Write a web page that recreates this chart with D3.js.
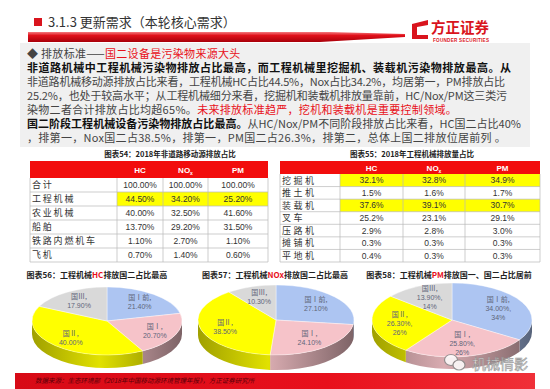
<!DOCTYPE html>
<html>
<head>
<meta charset="utf-8">
<script src="https://cdn.jsdelivr.net/npm/d3@7"></script>
<style>
  body { margin: 0; background: #fff; }
  svg { display: block; }
  text { font-family: "Noto Sans CJK SC", "Noto Sans", sans-serif; }
  .num { font-family: "Liberation Sans", Arial, sans-serif; }
</style>
</head>
<body>
<div id="chart"></div>
<script>
const width = 550;
const height = 389;

// table 54: 2018 non-road mobile source share
const t54Rows = ["合计", "工程机械", "农业机械", "船舶", "铁路内燃机车", "飞机"];
const t54HC = [100.00, 44.50, 40.00, 13.70, 1.10, 0.70];
const t54NOx = [100.00, 34.20, 32.50, 29.20, 2.70, 1.40];
const t54PM = [100.00, 25.20, 41.60, 31.50, 1.10, 0.60];
const t54Hi = ["工程机械"];

// table 55: construction machinery emission share
const t55Rows = ["挖掘机", "推土机", "装载机", "叉车", "压路机", "摊铺机", "平地机"];
const t55HC = [32.1, 1.5, 37.6, 25.2, 2.9, 0.3, 0.4];
const t55NOx = [32.8, 1.6, 39.1, 23.1, 2.8, 0.3, 0.3];
const t55PM = [34.9, 1.7, 30.7, 29.1, 3.0, 0.3, 0.3];
const t55Hi = ["挖掘机", "装载机"];

// pies 56-58: share by emission stage
const stages = ["国Ⅰ前", "国Ⅰ", "国Ⅱ", "国Ⅲ"];
const hcShare = [21.40, 20.70, 40.00, 17.90];
const noxShare = [27.10, 24.10, 38.50, 10.30];
const pmShare = [34.00, 25.80, 26.30, 13.90];

const red = "#e8101a";
const stageColor = d3.scaleOrdinal()
    .domain(stages)
    .range(["#adc5f2", "#f6c3c9", "#ffff00", "#d9d9d9"]);

const svg = d3.select("#chart").append("svg")
    .attr("width", width)
    .attr("height", height);
const defs = svg.append("defs");

svg.append("rect").attr("width", width).attr("height", height).attr("fill", "#fff");

// ---------- header ----------
svg.append("rect").attr("x", 34).attr("y", 18).attr("width", 8).attr("height", 8).attr("fill", "#d9141d");
svg.append("text").attr("x", 48).attr("y", 27)
    .attr("font-size", 13).attr("fill", "#333")
    .text("3.1.3 更新需求（本轮核心需求）");

const barGrad = defs.append("linearGradient").attr("id", "barGrad")
    .attr("x1", 0).attr("x2", 0).attr("y1", 0).attr("y2", 1);
barGrad.append("stop").attr("offset", 0).attr("stop-color", "#f47a7e");
barGrad.append("stop").attr("offset", 0.35).attr("stop-color", "#e0101a");
barGrad.append("stop").attr("offset", 1).attr("stop-color", "#a8000a");
svg.append("path")
    .attr("d", "M28,32 L330,32 L405,34 L405,37 L320,42 L28,42 Z")
    .attr("fill", "url(#barGrad)");

// logo
svg.append("path")
    .attr("d", "M412,24 L428,20 L428,25 L417,27 L417,35 L428,35 L428,39 L412,39 Z")
    .attr("fill", "#d9141d");
svg.append("text").attr("x", 431).attr("y", 33)
    .attr("font-size", 14.5).attr("font-weight", 700).attr("fill", "#d9141d")
    .text("方正证券");
svg.append("text").attr("x", 433).attr("y", 41.5).attr("class", "num")
    .attr("font-size", 4.6).attr("font-weight", 700).attr("fill", "#d9141d")
    .attr("textLength", 56)
    .text("FOUNDER SECURITIES");

// ---------- text block ----------
svg.append("rect").attr("x", 20).attr("y", 43).attr("width", 510).attr("height", 104).attr("fill", "#f0f0f0");

const lines = [
    [["◆ 排放标准——", "n"], ["国二设备是污染物来源大头", "r"]],
    [["非道路机械中工程机械污染物排放占比最高，而工程机械里挖掘机、装载机污染物排放最高。从", "b"]],
    [["非道路机械移动源排放占比来看，工程机械HC占比44.5%，Nox占比34.2%，均居第一，PM排放占比", "n"]],
    [["25.2%，也处于较高水平；从工程机械细分来看，挖掘机和装载机排放量靠前，HC/Nox/PM这三类污", "n"]],
    [["染物二者合计排放占比均超65%。", "n"], ["未来排放标准趋严，挖机和装载机是重要控制领域。", "r"]],
    [["国二阶段工程机械设备污染物排放占比最高。", "b"], ["从HC/Nox/PM不同阶段排放占比来看，HC国二占比40%", "n"]],
    [["，排第一，Nox国二占38.5%，排第一，PM国二占26.3%，排第二，总体上国二排放位居前列 。", "n"]]
];
// full widths of the justified lines, null = natural width
const lineWidths = [null, 484, 478, 480, null, 494, null];
lines.forEach((segs, i) => {
    const t = svg.append("text")
        .attr("x", 27).attr("y", 58 + i * 14)
        .attr("font-size", 11);
    if (lineWidths[i]) {
        t.attr("textLength", lineWidths[i]).attr("lengthAdjust", "spacing");
    } else {
        t.attr("letter-spacing", 0.3);
    }
    segs.forEach(([s, k]) => {
        t.append("tspan")
            .attr("fill", k === "r" ? red : (k === "b" ? "#111" : "#444"))
            .attr("font-weight", k === "b" ? 700 : 400)
            .text(s);
    });
});

// ---------- tables ----------
const fmt2 = d3.format(".2f");
const fmt1 = d3.format(".1f");

const drawTable = (opt) => {
    const g = svg.append("g");
    const cols = ["label", "HC", "NOx", "PM"];
    const y = d3.scaleBand().domain(opt.rows).range([opt.bodyTop, opt.bottom]);
    const xl = (c) => opt.edges[cols.indexOf(c)];
    const xr = (c) => opt.edges[cols.indexOf(c) + 1];

    g.append("text")
        .attr("x", opt.titleX).attr("y", opt.titleY)
        .attr("text-anchor", "middle").attr("font-size", 7.5).attr("font-weight", 700).attr("fill", "#222")
        .text(opt.title);

    // header
    g.append("rect")
        .attr("x", opt.edges[0]).attr("y", opt.top)
        .attr("width", opt.edges[4] - opt.edges[0]).attr("height", opt.bodyTop - opt.top)
        .attr("fill", "#f20d0d");
    ["HC", "NOx", "PM"].forEach(c => {
        const t = g.append("text").attr("class", "num")
            .attr("x", (xl(c) + xr(c)) / 2).attr("y", (opt.top + opt.bodyTop) / 2 + 3)
            .attr("text-anchor", "middle").attr("font-size", 8).attr("font-weight", 700).attr("fill", "#fff");
        if (c === "NOx") {
            t.append("tspan").text("NO");
            t.append("tspan").attr("font-size", 5).attr("dy", 2).text("x");
        } else {
            t.text(c);
        }
    });

    // body cells
    opt.rows.forEach((r, i) => {
        const hi = opt.hi.includes(r);
        g.append("text")
            .attr("x", opt.edges[0] + 2).attr("y", y(r) + y.bandwidth() / 2 + 3.3)
            .attr("font-size", 9).attr("letter-spacing", opt.ls).attr("fill", "#333")
            .text(r);
        [["HC", opt.hc], ["NOx", opt.nox], ["PM", opt.pm]].forEach(([c, arr]) => {
            if (hi) {
                g.append("rect")
                    .attr("x", xl(c)).attr("y", y(r))
                    .attr("width", xr(c) - xl(c)).attr("height", y.bandwidth())
                    .attr("fill", "#ffff00");
            }
            g.append("text").attr("class", "num")
                .attr("x", (xl(c) + xr(c)) / 2).attr("y", y(r) + y.bandwidth() / 2 + 3)
                .attr("text-anchor", "middle").attr("font-size", 8.5).attr("fill", "#333")
                .text(opt.fmt(arr[i]) + "%");
        });
    });

    // grid lines
    opt.rows.forEach(r => {
        g.append("line")
            .attr("x1", opt.edges[0]).attr("x2", opt.edges[4])
            .attr("y1", y(r) + y.bandwidth()).attr("y2", y(r) + y.bandwidth())
            .attr("stroke", "#b8b8b8").attr("stroke-width", 0.7);
    });
    opt.edges.forEach(xe => {
        g.append("line")
            .attr("x1", xe).attr("x2", xe)
            .attr("y1", opt.bodyTop).attr("y2", opt.bottom)
            .attr("stroke", "#b8b8b8").attr("stroke-width", 0.7);
    });
};

drawTable({
    title: "图表54：2018年非道路移动源排放占比", titleX: 170, titleY: 157,
    rows: t54Rows, hc: t54HC, nox: t54NOx, pm: t54PM, hi: t54Hi, fmt: fmt2,
    edges: [30, 117, 163, 208, 268], top: 161, bodyTop: 178, bottom: 262, ls: 1.8
});
drawTable({
    title: "图表55：2018年工程机械排放量占比", titleX: 412, titleY: 157,
    rows: t55Rows, hc: t55HC, nox: t55NOx, pm: t55PM, hi: t55Hi, fmt: fmt1,
    edges: [280, 340, 403, 465, 540], top: 161, bodyTop: 174, bottom: 262, ls: 2.5
});

// ---------- footer bar ----------
const footGrad = defs.append("linearGradient").attr("id", "footGrad");
footGrad.append("stop").attr("offset", 0).attr("stop-color", "#d70a16");
footGrad.append("stop").attr("offset", 0.6).attr("stop-color", "#e8101c");
footGrad.append("stop").attr("offset", 1).attr("stop-color", "#f03038");
svg.append("rect").attr("x", 15).attr("y", 373).attr("width", 520).attr("height", 16).attr("fill", "url(#footGrad)");
svg.append("text").attr("x", 35).attr("y", 383)
    .attr("font-size", 6.5).attr("font-style", "italic").attr("fill", "#5a0008")
    .text("数据来源：生态环境部《2018年中国移动源环境管理年报》，方正证券研究所");

// ---------- 3D pies ----------
const pie = d3.pie().sort(null).value(d => d.v);

const drawPie = (opt) => {
    const g = svg.append("g");
    const { cx, cy, rx, ry, depth } = opt;
    const pt = (a, dy = 0) => [cx + rx * Math.sin(a), cy - ry * Math.cos(a) + dy];
    const arcs = pie(stages.map((s, i) => ({ s: s, v: opt.values[i] })));

    // title
    const t = g.append("text")
        .attr("x", opt.titleX).attr("y", 278)
        .attr("text-anchor", "middle").attr("font-size", 8).attr("font-weight", 700).attr("fill", "#222");
    opt.title.forEach(([s, r]) => t.append("tspan").attr("fill", r ? red : "#222").text(s));

    // side walls (front half only)
    arcs.forEach((d, i) => {
        const s = Math.max(d.startAngle, Math.PI / 2);
        const e = Math.min(d.endAngle, Math.PI * 1.5);
        if (s >= e) return;
        const id = `side${opt.id}_${i}`;
        const c = d3.color(stageColor(d.data.s));
        const gr = defs.append("linearGradient").attr("id", id)
            .attr("gradientUnits", "userSpaceOnUse")
            .attr("x1", cx - rx).attr("x2", cx + rx).attr("y1", 0).attr("y2", 0);
        gr.append("stop").attr("offset", 0).attr("stop-color", c.darker(1.3));
        gr.append("stop").attr("offset", 0.45).attr("stop-color", c.darker(0.35));
        gr.append("stop").attr("offset", 1).attr("stop-color", c.darker(1.9));
        const a = pt(s), b = pt(e), b2 = pt(e, depth), a2 = pt(s, depth);
        g.append("path")
            .attr("d", `M${a}A${rx},${ry} 0 0 1 ${b}L${b2}A${rx},${ry} 0 0 0 ${a2}Z`)
            .attr("fill", `url(#${id})`);
    });

    // top faces
    arcs.forEach(d => {
        const a = pt(d.startAngle), b = pt(d.endAngle);
        const large = d.endAngle - d.startAngle > Math.PI ? 1 : 0;
        g.append("path")
            .attr("d", `M${cx},${cy}L${a}A${rx},${ry} 0 ${large} 1 ${b}Z`)
            .attr("fill", stageColor(d.data.s))
            .attr("stroke", "#fff").attr("stroke-width", 0.4);
    });

    // labels
    arcs.forEach(d => {
        const m = (d.startAngle + d.endAngle) / 2;
        const [lx, ly] = [cx + rx * opt.k * Math.sin(m), cy - ry * opt.k * Math.cos(m)];
        const rows = [d.data.s + ",", fmt2(d.data.v) + "%" + (opt.rounded ? "," : "")];
        if (opt.rounded) rows.push(Math.round(d.data.v) + "%");
        const lt = g.append("text")
            .attr("text-anchor", "middle").attr("font-size", 7).attr("fill", "#5f6579");
        rows.forEach((r, j) => {
            lt.append("tspan")
                .attr("x", lx)
                .attr("y", ly + 2.5 + (j - (rows.length - 1) / 2) * 9)
                .attr("class", j > 0 ? "num" : null)
                .text(r);
        });
    });
};

drawPie({
    id: 56, values: hcShare, cx: 107, cy: 321, rx: 75, ry: 34, depth: 13, k: 0.7, titleX: 97,
    title: [["图表56：工程机械", false], ["HC", true], ["排放国二占比最高", false]]
});
drawPie({
    id: 57, values: noxShare, cx: 276, cy: 320, rx: 78, ry: 35, depth: 15, k: 0.68, titleX: 275,
    title: [["图表57：工程机械", false], ["NOx", true], ["排放国二占比最高", false]]
});
drawPie({
    id: 58, values: pmShare, cx: 452, cy: 320, rx: 80, ry: 37, depth: 12, k: 0.66, titleX: 449, rounded: true,
    title: [["图表58：工程机械", false], ["PM", true], ["排放国一、国二占比居前", false]]
});

// ---------- watermark ----------
const wm = svg.append("g").attr("opacity", 0.85);
wm.append("ellipse").attr("cx", 451).attr("cy", 360).attr("rx", 6.5).attr("ry", 5.5)
    .attr("fill", "#fff").attr("stroke", "#888").attr("stroke-width", 1.2);
wm.append("ellipse").attr("cx", 459).attr("cy", 365).attr("rx", 6).attr("ry", 5)
    .attr("fill", "#fff").attr("stroke", "#888").attr("stroke-width", 1.2);
wm.append("text").attr("x", 472).attr("y", 369)
    .attr("font-size", 14).attr("fill", "#fff").attr("stroke", "#8a8a8a").attr("stroke-width", 0.6)
    .text("机械情影");
</script>
</body>
</html>
